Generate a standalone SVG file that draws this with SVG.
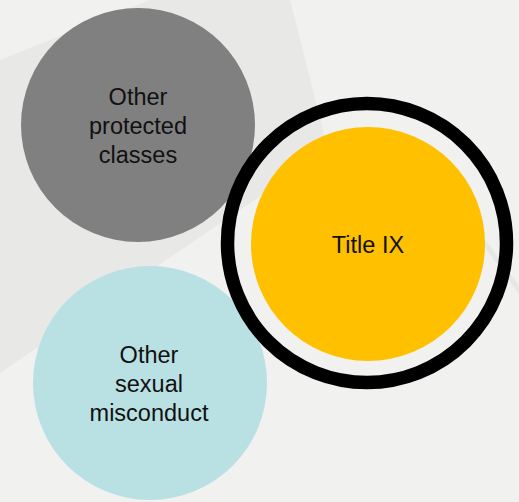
<svg xmlns="http://www.w3.org/2000/svg" width="519" height="502" viewBox="0 0 519 502">
  <style>
    .lbl { font-family: "Liberation Sans", Arial, sans-serif; font-size: 23.5px; fill: #111; text-anchor: middle; }
  </style>
  <g id="background">
    <rect x="0" y="0" width="519" height="502" fill="#f1f1f0"/>
    <polygon points="0,60 150,0 290,0 328,150 0,373" fill="#e8e8e7"/>
    <line x1="430" y1="168" x2="530" y2="305" stroke="#e7e7e6" stroke-width="5"/>
  </g>
  <g id="connectors"/>
  <g id="node-other-protected">
    <circle cx="138" cy="125" r="117" fill="#808080"/>
    <text class="lbl" x="138" y="105">Other</text>
    <text class="lbl" x="138" y="134">protected</text>
    <text class="lbl" x="138" y="163">classes</text>
  </g>
  <g id="node-other-sexual">
    <circle cx="150" cy="383" r="117" fill="#b9e0e3"/>
    <text class="lbl" x="149" y="363">Other</text>
    <text class="lbl" x="149" y="392">sexual</text>
    <text class="lbl" x="149" y="421">misconduct</text>
  </g>
  <g id="node-title-ix">
    <circle cx="367" cy="243" r="139.5" fill="none" stroke="#000" stroke-width="13.5"/>
    <circle cx="368" cy="244" r="117" fill="#ffc000"/>
    <text class="lbl" x="368" y="253">Title IX</text>
  </g>
</svg>
